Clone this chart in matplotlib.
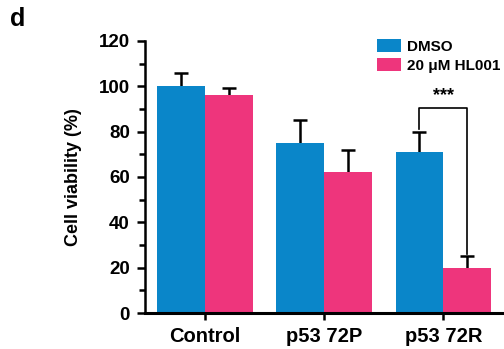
import numpy as np
import matplotlib.pyplot as plt
from matplotlib.ticker import MultipleLocator

categories = ['Control', 'p53 72P', 'p53 72R']
dmso = [100, 75, 71]
dmso_err = [6, 10, 9]
hl001 = [96, 62, 20]
hl001_err = [3, 10, 5]

blue = '#0A86C9'
pink = '#EE357C'

plt.rcParams['font.family'] = 'Liberation Sans'
plt.rcParams['font.weight'] = 'bold'

fig = plt.figure(figsize=(5.04, 3.49), dpi=100)
ax = fig.add_axes([0.288, 0.103, 0.71, 0.78])

x = np.arange(len(categories))
w = 0.4
ax.bar(x - w/2, dmso, w, color=blue, label='DMSO', zorder=2)
ax.bar(x + w/2, hl001, w, color=pink, label='20 \u03bcM HL001', zorder=2)
for xs, vals, errs in [(x - w/2, dmso, dmso_err), (x + w/2, hl001, hl001_err)]:
    _, caps, _ = ax.errorbar(xs, vals, yerr=[np.zeros(3), errs], fmt='none',
                             ecolor='black', elinewidth=1.8, capsize=5,
                             capthick=1.8, zorder=1)
    caps[0].set_visible(False)

# significance bracket
x1, x2 = x[2] - w/2, x[2] + w/2
top = 90.5
ax.plot([x1, x1, x2, x2], [dmso[2] + dmso_err[2] + 1, top, top, hl001[2] + hl001_err[2] + 1],
        color='black', lw=1.2)
ax.text(x[2], top + 1.5, '***', ha='center', va='bottom', fontsize=13, fontweight='bold')

ax.set_xlim(-0.5, 2.5)
ax.set_ylim(0, 120)
ax.set_xticks(x)
ax.set_xticklabels(categories, fontsize=14.5, fontweight='bold')
ax.yaxis.set_major_locator(MultipleLocator(20))
ax.yaxis.set_minor_locator(MultipleLocator(10))
ax.tick_params(axis='y', which='major', labelsize=13.5, width=1.8, length=6,
               direction='out', pad=5)
ax.tick_params(axis='y', which='minor', width=1.8, length=4, direction='out')
ax.tick_params(axis='x', width=1.8, length=5, direction='out', pad=5)
for lbl in ax.get_yticklabels():
    lbl.set_fontweight('bold')
ax.set_ylabel('Cell viability (%)', fontsize=13, fontweight='bold', labelpad=12)
ax.spines['top'].set_visible(False)
ax.spines['right'].set_visible(False)
ax.spines['left'].set_linewidth(1.8)
ax.spines['bottom'].set_linewidth(2.2)

ax.legend(loc='upper right', bbox_to_anchor=(1.017, 1.04), frameon=False,
          handlelength=1.6, handleheight=0.9, handletextpad=0.35, labelspacing=0.3,
          borderaxespad=0.2, prop={'weight': 'bold', 'size': 11})

fig.text(0.02, 0.925, 'd', fontsize=18, fontweight='bold')

fig.savefig('out.png', dpi=100)
